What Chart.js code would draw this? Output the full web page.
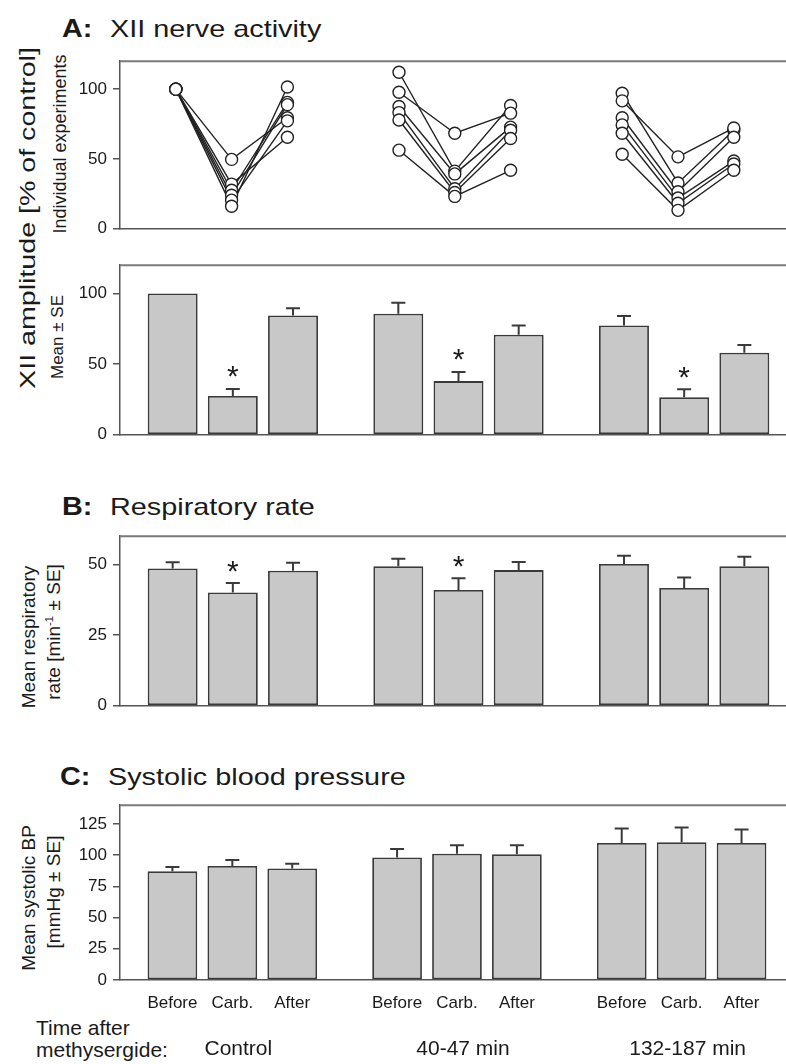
<!DOCTYPE html>
<html><head><meta charset="utf-8">
<script src="https://cdn.jsdelivr.net/npm/chart.js@4.4.1/dist/chart.umd.min.js"></script>
<style>
html,body{margin:0;padding:0;width:786px;height:1064px;overflow:hidden;background:#fff;}
body{font-family:'Liberation Sans',Arial,sans-serif;color:#1a1a1a;}
#wrap{position:relative;width:786px;height:1064px;overflow:hidden;}
canvas.cv{position:absolute;left:0;}
.t{position:absolute;white-space:nowrap;line-height:1;transform-origin:0 0;}
.tl{font-size:25px;font-weight:bold;transform:scaleX(1.15);}
.tt{font-size:24px;transform:scaleX(1.2);}
.rot{position:absolute;white-space:nowrap;line-height:1;transform:translate(-50%,-50%) rotate(-90deg);}
sup{font-size:60%;vertical-align:0.55em;line-height:0;}
</style></head>
<body>
<div id="wrap">
<div class="t tl" style="left:62px;top:16px">A:</div>
<div class="t tt" style="left:110px;top:17px">XII nerve activity</div>
<div class="t tl" style="left:62px;top:494px">B:</div>
<div class="t tt" style="left:110px;top:495px">Respiratory rate</div>
<div class="t tl" style="left:60px;top:764px">C:</div>
<div class="t tt" style="left:108px;top:765px">Systolic blood pressure</div>

<div class="rot" style="left:28px;top:218px;font-size:22px;transform:translate(-50%,-50%) rotate(-90deg) scaleX(1.3);">XII amplitude [% of control]</div>
<div class="rot" style="left:60px;top:144px;font-size:18px;">Individual experiments</div>
<div class="rot" style="left:57px;top:337px;font-size:17px;">Mean ± SE</div>
<div class="rot" style="left:28px;top:637px;font-size:19px;">Mean respiratory</div>
<div class="rot" style="left:53px;top:632px;font-size:19px;">rate [min<sup>-1</sup> ± SE]</div>
<div class="rot" style="left:28px;top:898px;font-size:19px;">Mean systolic BP</div>
<div class="rot" style="left:53px;top:892px;font-size:19px;">[mmHg ± SE]</div>

<div class="t" style="left:36px;top:1017px;font-size:21px;">Time after</div>
<div class="t" style="left:36px;top:1039px;font-size:21px;">methysergide:</div>

<canvas id="cA1" class="cv" width="797" height="200" style="top:45px"></canvas>
<canvas id="cA2" class="cv" width="797" height="202" style="top:249px"></canvas>
<canvas id="cB" class="cv" width="797" height="202" style="top:520px"></canvas>
<canvas id="cC" class="cv" width="797" height="275" style="top:789px"></canvas>
</div>

<script>
// ---------- DATA ----------
const groups = ["Control", "40-47 min", "132-187 min"];
const conditions = ["Before", "Carb.", "After"];

// Panel A top: individual experiments [before, carb, after] (% of control)
const indivControl = [
  [100, 49.7, 79.5],
  [100, 32.0, 65.6],
  [100, 27.6, 90.5],
  [100, 24.0, 88.9],
  [100, 20.5, 77.3],
  [100, 16.1, 101.5]
];
const indiv40 = [
  [112.1, 41.3, 88.3],
  [97.8, 68.4, 82.8],
  [87.6, 39.3, 72.8],
  [83.2, 28.7, 70.6],
  [77.9, 26.0, 64.7],
  [56.3, 23.2, 41.9]
];
const indiv132 = [
  [97.1, 32.8, 70.6],
  [91.6, 51.5, 72.2],
  [79.5, 26.5, 65.6],
  [74.4, 22.0, 48.5],
  [68.4, 18.3, 46.4],
  [53.4, 13.2, 41.9]
];

// Panel A bottom: XII amplitude mean and SE, per condition across groups
const xiiBefore = [100, 85.7, 77.4];
const xiiCarb = [27.4, 38.0, 26.5];
const xiiAfter = [84.4, 70.8, 58.1];
const xiiBeforeSE = [0, 7.7, 6.6];
const xiiCarbSE = [5.0, 6.5, 5.7];
const xiiAfterSE = [5.1, 6.6, 5.5];
const xiiSig = [[0, 0, 0], [1, 1, 1], [0, 0, 0]];

// Panel B: respiratory rate
const respBefore = [48.6, 49.4, 50.2];
const respCarb = [40.1, 41.0, 41.7];
const respAfter = [47.8, 48.0, 49.4];
const respBeforeSE = [2.2, 2.6, 2.9];
const respCarbSE = [3.3, 4.1, 3.7];
const respAfterSE = [2.8, 2.9, 3.3];
const respSig = [[0, 0, 0], [1, 1, 0], [0, 0, 0]];

// Panel C: systolic BP
const bpBefore = [87.0, 98.2, 109.8];
const bpCarb = [91.3, 101.1, 110.3];
const bpAfter = [89.3, 100.8, 109.8];
const bpBeforeSE = [3.5, 6.7, 11.6];
const bpCarbSE = [4.9, 6.9, 11.9];
const bpAfterSE = [3.8, 7.2, 10.8];
const bpSig = [[0, 0, 0], [0, 0, 0], [0, 0, 0]];

// Tick labels
const ticksXII = [0, 50, 100];
const ticksResp = [0, 25, 50];
const ticksBP = [0, 25, 50, 75, 100, 125];

// ---------- STYLE ----------
const FONT = "'Liberation Sans', Arial, sans-serif";
const TXT = '#1a1a1a';
const AXIS = '#555';
const BAR_FILL = '#c8c8c8';
const BAR_EDGE = '#3a3a3a';
const pointSpread = 0.25;

const framePlugin = {
  id: 'frame',
  afterDraw(chart) {
    const {ctx, chartArea: a} = chart;
    ctx.save();
    ctx.strokeStyle = '#7a7a7a';
    ctx.lineWidth = 2;
    ctx.beginPath();
    ctx.moveTo(a.left, a.top);
    ctx.lineTo(a.right, a.top);
    ctx.stroke();
    ctx.restore();
  }
};

const errPlugin = {
  id: 'errbars',
  afterDatasetsDraw(chart, args, opts) {
    if (!opts || !opts.se) return;
    const {ctx} = chart;
    const yS = chart.scales.y;
    ctx.save();
    chart.data.datasets.forEach((ds, di) => {
      const meta = chart.getDatasetMeta(di);
      meta.data.forEach((bar, gi) => {
        const v = ds.data[gi];
        const e = opts.se[di][gi];
        const y0 = yS.getPixelForValue(v);
        const y1 = yS.getPixelForValue(v + e);
        if (e > 0) {
          ctx.strokeStyle = BAR_EDGE;
          ctx.lineWidth = 2;
          ctx.beginPath();
          ctx.moveTo(bar.x, y0);
          ctx.lineTo(bar.x, y1);
          ctx.moveTo(bar.x - 7, y1);
          ctx.lineTo(bar.x + 7, y1);
          ctx.stroke();
        }
        if (opts.sig && opts.sig[di][gi]) {
          ctx.fillStyle = TXT;
          ctx.font = '30px ' + FONT;
          ctx.textAlign = 'center';
          ctx.textBaseline = 'alphabetic';
          ctx.fillText('*', bar.x, y1 - 20 + 0.58 * 30);
        }
        if (opts.subLabels) {
          ctx.fillStyle = TXT;
          ctx.font = '17px ' + FONT;
          ctx.textAlign = 'center';
          ctx.textBaseline = 'middle';
          ctx.fillText(conditions[di], bar.x, chart.chartArea.bottom + 23);
        }
      });
    });
    ctx.restore();
  }
};

function yAxis(max, ticks) {
  return {
    min: 0, max: max,
    afterBuildTicks: s => { s.ticks = ticks.map(v => ({value: v})); },
    afterFit: s => { s.width = 120; },
    grid: {drawOnChartArea: false, drawTicks: true, tickLength: 7, color: AXIS, lineWidth: 1.5},
    border: {display: true, color: AXIS, width: 1.5},
    ticks: {font: {family: FONT, size: 17}, color: TXT, padding: 6}
  };
}

function barChart(id, before, carb, after, se, sig, max, ticks, withLabels) {
  const mk = (label, data) => ({
    label, data,
    backgroundColor: BAR_FILL, borderColor: BAR_EDGE, borderWidth: 1.8,
    borderSkipped: false, categoryPercentage: 0.8, barPercentage: 0.83
  });
  return new Chart(document.getElementById(id), {
    type: 'bar',
    data: {labels: groups, datasets: [mk(conditions[0], before), mk(conditions[1], carb), mk(conditions[2], after)]},
    options: {
      responsive: false, animation: false,
      layout: {padding: {top: 10, bottom: withLabels ? 0 : 10, left: 0, right: 0}},
      plugins: {legend: {display: false}, tooltip: {enabled: false},
        errbars: {se, sig, subLabels: withLabels}},
      scales: {
        x: {
          afterFit: s => { s.height = withLabels ? 84 : 0; },
          grid: {display: false, drawTicks: false},
          border: {display: true, color: AXIS, width: 1.5},
          ticks: {display: withLabels, font: {family: FONT, size: 21}, color: TXT, padding: 57, labelOffset: 6, maxRotation: 0}
        },
        y: yAxis(max, ticks)
      }
    },
    plugins: [framePlugin, errPlugin]
  });
}

// ---------- Panel A top: individual experiments ----------
const indivGroups = [indivControl, indiv40, indiv132];
const lineSets = [];
const allPoints = [];
indivGroups.forEach((grp, gi) => grp.forEach(exp => {
  const pts = exp.map((v, ci) => ({x: gi + (ci - 1) * pointSpread, y: v}));
  allPoints.push(...pts);
  lineSets.push({data: pts, showLine: true, borderColor: '#222', borderWidth: 1.4, pointRadius: 0, order: 2});
}));
lineSets.push({data: allPoints, showLine: false, pointRadius: 6, pointHoverRadius: 6,
  pointBackgroundColor: '#fff', pointBorderColor: '#222', pointBorderWidth: 1.4, order: 1});

new Chart(document.getElementById('cA1'), {
  type: 'scatter',
  data: {datasets: lineSets},
  options: {
    responsive: false, animation: false,
    layout: {padding: {top: 10, bottom: 10, left: 0, right: 0}},
    plugins: {legend: {display: false}, tooltip: {enabled: false}},
    scales: {
      x: {type: 'linear', min: -0.5, max: 2.5,
        afterFit: s => { s.height = 0; },
        grid: {display: false, drawTicks: false},
        border: {display: true, color: AXIS, width: 1.5},
        ticks: {display: false}},
      y: yAxis(120, ticksXII)
    }
  },
  plugins: [framePlugin]
});

barChart('cA2', xiiBefore, xiiCarb, xiiAfter, [xiiBeforeSE, xiiCarbSE, xiiAfterSE], xiiSig, 120, ticksXII, false);
barChart('cB', respBefore, respCarb, respAfter, [respBeforeSE, respCarbSE, respAfterSE], respSig, 60, ticksResp, false);
barChart('cC', bpBefore, bpCarb, bpAfter, [bpBeforeSE, bpCarbSE, bpAfterSE], bpSig, 140, ticksBP, true);
</script>
</body></html>
